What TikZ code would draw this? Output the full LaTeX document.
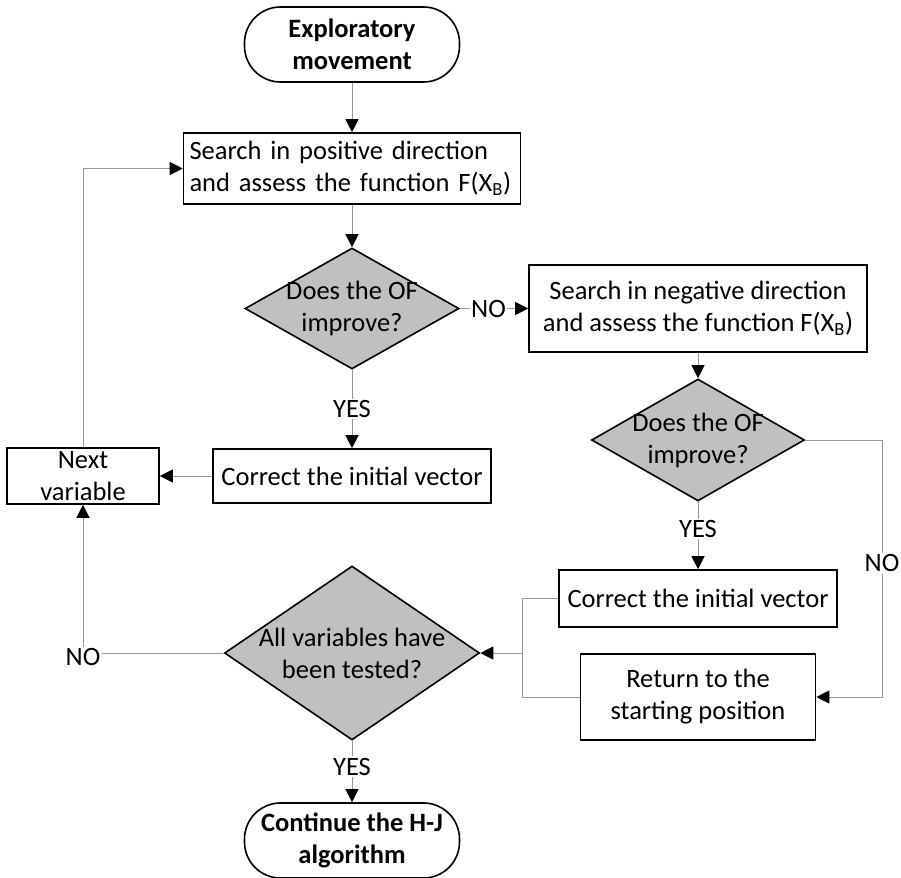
\documentclass[tikz,border=0pt]{standalone}
\usepackage{fontspec}
\setmainfont{Carlito}
\usetikzlibrary{shapes.geometric,arrows.meta}
\definecolor{linegray}{RGB}{150,150,150}
\definecolor{decgray}{RGB}{192,192,192}
\newcommand{\flowfont}{\fontsize{26.5}{32}\selectfont}
\begin{document}
\begin{tikzpicture}[x=1pt,y=-1pt,
  base/.style={draw=black,line width=1.6pt,inner sep=0pt,align=center,font=\flowfont},
  term/.style={base,rounded corners=36pt,font=\flowfont\bfseries},
  proc/.style={base,rectangle},
  decision/.style={base,diamond,fill=decgray},
  dtext/.style={align=center,font=\flowfont,inner sep=0pt},
  conn/.style={draw=linegray,line width=1pt,-{Triangle[length=13pt,width=13pt,color=black]}},
  plain/.style={draw=linegray,line width=1pt},
  lbl/.style={fill=white,inner sep=1.5pt,font=\flowfont}
]
\useasboundingbox (0,0) rectangle (901,877);

% shapes
\node[term, minimum width=215pt, minimum height=75pt] (start) at (352,44.5) {Exploratory\\movement};
\node[proc, minimum height=71pt, text width=325pt, inner xsep=6pt, align=left] (box1) at (352,168.5)
  {Search in positive direction\\and assess the function F(X\textsubscript{B})};
\node[decision, minimum width=214pt, minimum height=121pt,
  label={[dtext]center:Does the OF\\improve?}] (d1) at (352,308.5) {};
\node[proc, minimum width=338pt, minimum height=87pt] (box2) at (698,308.5)
  {Search in negative direction\\and assess the function F(X\textsubscript{B})};
\node[decision, minimum width=213pt, minimum height=122pt,
  label={[dtext]center:Does the OF\\improve?}] (d2) at (698,440) {};
\node[proc, minimum width=278pt, minimum height=54pt] (corr1) at (352,476) {Correct the initial vector};
\node[proc, minimum width=152pt, minimum height=56pt] (next) at (83,476) {Next\\variable};
\node[decision, minimum width=255pt, minimum height=174pt,
  label={[dtext]center:All variables have\\been tested?}] (d3) at (352,653) {};
\node[proc, minimum width=278pt, minimum height=57pt] (corr2) at (698,598.5) {Correct the initial vector};
\node[proc, minimum width=235pt, minimum height=86pt] (ret) at (698,697) {Return to the\\starting position};
\node[term, minimum width=215pt, minimum height=75pt] (stop) at (352,840.5) {Continue the H-J\\algorithm};

% helper points for the routed connectors
\coordinate (rc) at (882,440);
\coordinate (mj) at (522,653);

% connectors
\draw[conn] (start) -- (box1);
\draw[conn] (box1) -- (d1);
\draw[conn] (d1) -- node[lbl, pos=0.42]{NO} (box2);
\draw[conn] (d1) -- node[lbl]{YES} (corr1);
\draw[conn] (corr1) -- (next);
\draw[conn] (next.north) |- (box1.west);
\draw[conn] (box2) -- (d2);
\draw[conn] (d2) -- node[lbl, pos=0.4]{YES} (corr2);
\draw[conn] (d2.east) -- (rc) |- node[lbl, pos=0.24]{NO} (ret.east);
\draw[plain] (corr2.west) -| (mj);
\draw[plain] (ret.west) -| (mj);
\draw[conn] (mj) -- (d3.east);
\draw[conn] (d3) -- node[lbl, pos=0.42]{YES} (stop);
\draw[conn] (d3.west) -| node[lbl, pos=0.5, yshift=-4pt]{NO} (next.south);
\end{tikzpicture}
\end{document}
